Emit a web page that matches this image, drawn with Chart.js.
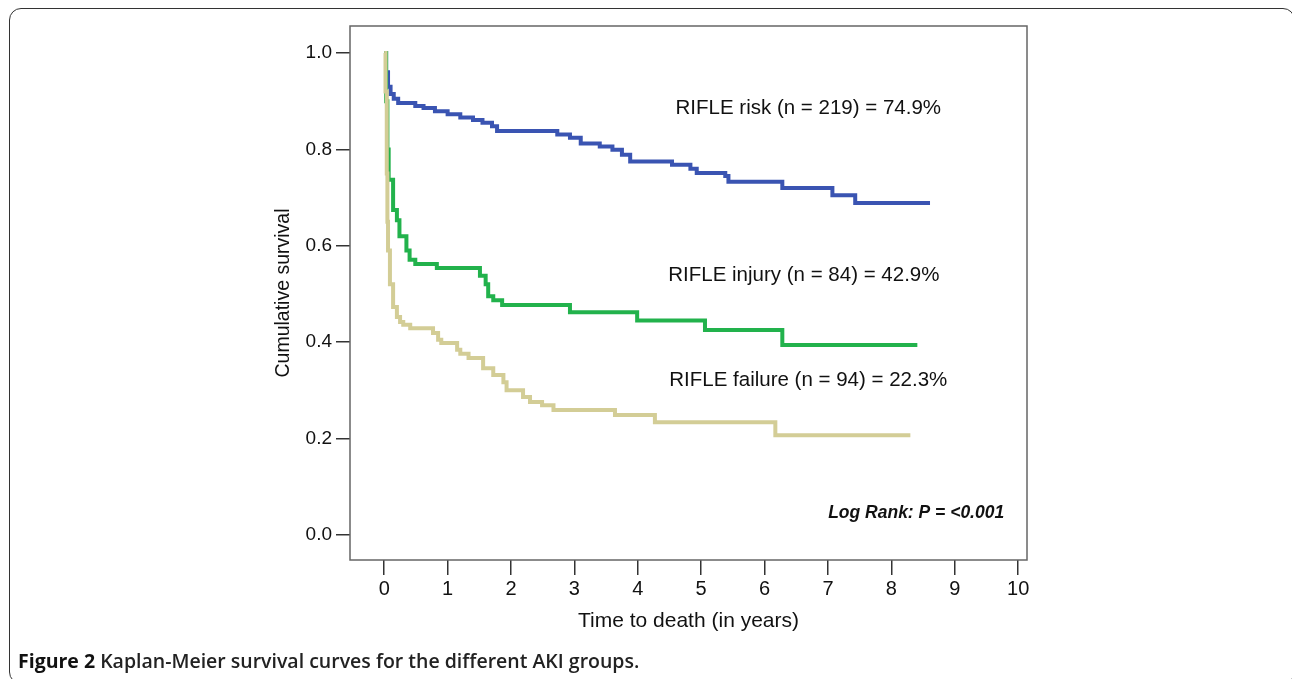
<!DOCTYPE html>
<html>
<head>
<meta charset="utf-8">
<script src="https://cdn.jsdelivr.net/npm/chart.js@4"></script>
<style>
  html, body { margin: 0; padding: 0; background: #fff; overflow: hidden; }
  #wrap { position: relative; width: 1292px; height: 679px; overflow: hidden; }
  #frame {
    position: absolute; left: 9px; top: 8px; width: 1286px; height: 676px;
    border: 1.5px solid #333; border-radius: 12px; box-sizing: border-box;
  }
  #box { position: absolute; left: 0; top: 0; width: 1292px; height: 679px; }
  #caption {
    position: absolute; left: 18px; top: 647px; white-space: nowrap;
    font-family: "Open Sans", sans-serif; font-size: 19.5px; font-weight: 600; color: #222;
    transform-origin: left top; transform: scaleX(1.0);
  }
  #caption b { font-weight: 700; color: #111; }
</style>
</head>
<body>
<div id="wrap">
  <div id="frame"></div>
  <div id="box"><canvas id="km"></canvas></div>
  <div id="caption"><b>Figure 2</b> Kaplan-Meier survival curves for the different AKI groups.</div>
</div>
<script>
// survival values (time in years, cumulative survival)
const riskTime = [0, 0.03, 0.06, 0.1, 0.15, 0.22, 0.49, 0.62, 0.8, 1.0, 1.2, 1.4, 1.55, 1.7, 1.78, 2.73, 2.93, 3.1, 3.4, 3.6, 3.75, 3.88, 4.54, 4.83, 4.93, 5.38, 5.43, 6.28, 7.07, 7.43, 8.61];
const riskSurv = [1.0, 0.96, 0.93, 0.915, 0.905, 0.896, 0.89, 0.886, 0.879, 0.873, 0.866, 0.861, 0.855, 0.848, 0.838, 0.831, 0.824, 0.812, 0.806, 0.799, 0.789, 0.775, 0.768, 0.76, 0.751, 0.745, 0.733, 0.72, 0.705, 0.689, 0.689];

const injuryTime = [0, 0.03, 0.05, 0.07, 0.14, 0.2, 0.24, 0.35, 0.4, 0.49, 0.83, 1.51, 1.6, 1.64, 1.72, 1.86, 2.93, 3.99, 5.06, 6.28, 8.41];
const injurySurv = [1.0, 0.9, 0.8, 0.737, 0.674, 0.653, 0.62, 0.59, 0.571, 0.562, 0.554, 0.538, 0.52, 0.495, 0.487, 0.477, 0.462, 0.445, 0.425, 0.394, 0.394];

const failureTime = [0, 0.02, 0.04, 0.05, 0.06, 0.09, 0.14, 0.2, 0.25, 0.3, 0.41, 0.77, 0.85, 0.9, 1.15, 1.2, 1.33, 1.56, 1.72, 1.88, 1.93, 2.19, 2.3, 2.49, 2.67, 3.64, 4.27, 6.17, 8.3];
const failureSurv = [1.0, 0.92, 0.75, 0.65, 0.59, 0.52, 0.473, 0.452, 0.442, 0.436, 0.429, 0.419, 0.405, 0.398, 0.384, 0.376, 0.367, 0.346, 0.332, 0.317, 0.3, 0.286, 0.276, 0.269, 0.259, 0.249, 0.234, 0.207, 0.207];

const xTicks = [0, 1, 2, 3, 4, 5, 6, 7, 8, 9, 10];
const yTicks = [0, 0.2, 0.4, 0.6, 0.8, 1.0];

const groupLabels = ["RIFLE risk (n = 219) = 74.9%", "RIFLE injury (n = 84) = 42.9%", "RIFLE failure (n = 94) = 22.3%"];
const testLabel = "Log Rank: P = <0.001";

function pts(t, s) {
  return t.map((v, i) => ({ x: v, y: s[i] }));
}

const FONT = "'Liberation Sans', Arial, sans-serif";

// frame around plot + the text annotations
const boxPlugin = {
  id: "boxPlugin",
  afterDraw(chart) {
    const { ctx, chartArea: a, scales } = chart;
    ctx.save();
    ctx.strokeStyle = "#666";
    ctx.lineWidth = 1.5;
    ctx.strokeRect(a.left, a.top, a.right - a.left, a.bottom - a.top);

    ctx.fillStyle = "#111";
    ctx.font = "20.5px " + FONT;
    ctx.textAlign = "center";
    ctx.textBaseline = "middle";
    const spots = [[6.69, 0.885], [6.62, 0.538], [6.69, 0.32]];
    groupLabels.forEach((txt, i) => {
      ctx.fillText(txt, scales.x.getPixelForValue(spots[i][0]), scales.y.getPixelForValue(spots[i][1]));
    });

    ctx.font = "italic bold 17.5px 'Liberation Sans Narrow', " + FONT;
    ctx.textAlign = "right";
    ctx.fillText(testLabel, scales.x.getPixelForValue(9.78), scales.y.getPixelForValue(0.046));
    ctx.restore();
  }
};

const ctx = document.getElementById("km");

new Chart(ctx, {
  type: "line",
  data: {
    datasets: [
      { label: "RIFLE failure", data: pts(failureTime, failureSurv), borderColor: "#d3cd96" },
      { label: "RIFLE injury", data: pts(injuryTime, injurySurv), borderColor: "#22b24c" },
      { label: "RIFLE risk", data: pts(riskTime, riskSurv), borderColor: "#3a54b2" }
    ].map(d => Object.assign(d, { stepped: "before", pointRadius: 0, borderWidth: 4, fill: false, tension: 0 }))
  },
  options: {
    responsive: true,
    maintainAspectRatio: false,
    animation: false,
    layout: { padding: { left: 268, top: 26, right: 265, bottom: 41 } },
    plugins: { legend: { display: false }, tooltip: { enabled: false } },
    scales: {
      x: {
        type: "linear",
        min: -0.54,
        max: 10.14,
        afterBuildTicks: s => { s.ticks = xTicks.map(v => ({ value: v })); },
        afterFit: s => { s.height = 78; },
        grid: { drawOnChartArea: false, drawTicks: true, tickLength: 15, color: "#333", lineWidth: 1.5 },
        border: { display: false },
        ticks: { color: "#111", font: { size: 20, family: FONT }, padding: 2, maxRotation: 0 },
        title: { display: true, text: "Time to death (in years)", color: "#111", font: { size: 21, family: FONT } }
      },
      y: {
        min: -0.052,
        max: 1.056,
        afterBuildTicks: s => { s.ticks = yTicks.map(v => ({ value: v })); },
        afterFit: s => { s.width = 82; },
        grid: { drawOnChartArea: false, drawTicks: true, tickLength: 14, color: "#333", lineWidth: 1.5 },
        border: { display: false },
        ticks: { color: "#111", font: { size: 19, family: FONT }, padding: 4, callback: v => v.toFixed(1) },
        title: { display: true, text: "Cumulative survival", color: "#111", font: { size: 19.5, family: FONT } }
      }
    }
  },
  plugins: [boxPlugin]
});
</script>
</body>
</html>
